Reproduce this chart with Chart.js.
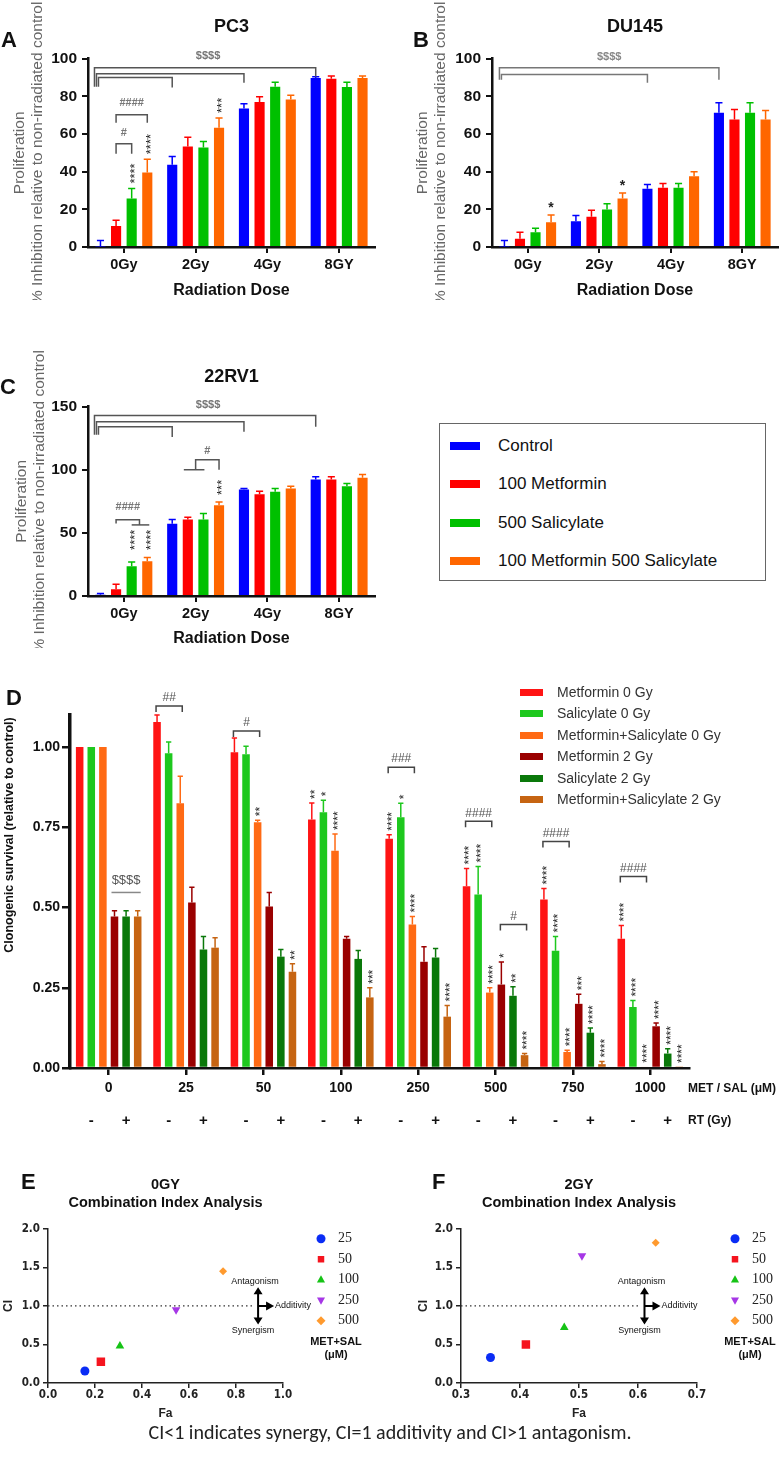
<!DOCTYPE html>
<html>
<head>
<meta charset="utf-8">
<title>Metformin / salicylate and radiation</title>
<script src="https://cdn.jsdelivr.net/npm/chart.js@4.4.1/dist/chart.umd.min.js"></script>
<style>
  html, body { margin: 0; padding: 0; background: #fff; }
  body { position: relative; width: 780px; height: 1472px; overflow: hidden; font-family: 'Liberation Sans', Arial, sans-serif; color: #111; }
  canvas { position: absolute; }
  .letter { position: absolute; font-weight: bold; font-size: 22px; line-height: 22px; }
  .abs { position: absolute; white-space: nowrap; }
  #legend-abc { position: absolute; left: 439px; top: 423px; width: 325px; height: 156px; border: 1.5px solid #666; }
</style>
</head>
<body>
<canvas id="pc3" width="390" height="300" style="left:0;top:0"></canvas>
<canvas id="du145" width="390" height="300" style="left:390px;top:0"></canvas>
<canvas id="rv1" width="390" height="348" style="left:0;top:300px"></canvas>
<canvas id="clono" width="780" height="460" style="left:0;top:680px"></canvas>
<canvas id="ci0" width="390" height="261" style="left:0;top:1160px"></canvas>
<canvas id="ci2" width="390" height="261" style="left:390px;top:1160px"></canvas>

<div class="letter" style="left:1px;top:29px">A</div>
<div class="letter" style="left:413px;top:29px">B</div>
<div class="letter" style="left:0;top:376px">C</div>
<div class="letter" style="left:6px;top:687px">D</div>
<div class="letter" style="left:21px;top:1171px">E</div>
<div class="letter" style="left:432px;top:1171px">F</div>

<div id="legend-abc"></div>
<div id="legend-d"></div>

<div class="abs" style="left:-141px;top:827px;width:300px;height:16px;line-height:16px;text-align:center;transform:rotate(-90deg);font-weight:bold;font-size:12.5px">Clonogenic survival (relative to control)</div>

<div class="abs" style="left:0;top:1420px;width:780px;text-align:center;font-family:Carlito,'Open Sans',sans-serif;font-size:20px;line-height:24px;color:#222">CI&lt;1 indicates synergy, CI=1 additivity and CI&gt;1 antagonism.</div>

<script>
const FONT = "'Liberation Sans', Arial, Helvetica, sans-serif";
const NARROW = "'Liberation Sans Narrow', 'DejaVu Sans Condensed', 'Liberation Sans', Arial, sans-serif";
const SERIF = "'Liberation Serif', 'DejaVu Serif', 'Times New Roman', serif";
const GREY = '#555';
Chart.defaults.font.family = FONT;
Chart.defaults.color = '#111';

// ---- A-C: % inhibition of proliferation
const DOSES = ['0Gy', '2Gy', '4Gy', '8GY'];
const TREATMENTS = ['Control', '100 Metformin', '500 Salicylate', '100 Metformin 500 Salicylate'];
const TREATMENT_COLORS = ['#0000ff', '#ff0000', '#00c000', '#ff6600'];

// rows = treatment, columns = dose
const PC3_MEAN = [
  [0.3, 43.6, 73.5, 89.7],
  [11.2, 53.4, 76.9, 89.3],
  [25.8, 52.8, 85.0, 84.9],
  [39.5, 63.3, 78.3, 89.7],
];
const PC3_SEM = [
  [3.2, 4.4, 2.5, 0.7],
  [3.0, 4.8, 2.8, 1.4],
  [5.2, 3.2, 2.5, 2.6],
  [7.1, 5.2, 2.3, 1.0],
];
const DU145_MEAN = [
  [0.3, 13.7, 30.9, 71.3],
  [4.4, 16.1, 31.4, 67.7],
  [7.8, 19.9, 31.4, 71.3],
  [13.1, 25.7, 37.6, 67.7],
];
const DU145_SEM = [
  [3.2, 3.0, 2.3, 5.3],
  [3.4, 3.4, 2.3, 5.3],
  [2.1, 3.1, 2.3, 5.3],
  [3.9, 3.0, 2.3, 4.8],
];
const RV1_MEAN = [
  [1.0, 57.3, 84.4, 92.3],
  [5.3, 60.5, 80.6, 92.3],
  [23.5, 60.5, 82.5, 87.0],
  [27.5, 71.9, 85.1, 93.6],
];
const RV1_SEM = [
  [1.0, 3.2, 0.7, 2.1],
  [4.0, 1.8, 2.4, 2.1],
  [3.5, 4.8, 2.6, 2.1],
  [3.0, 2.6, 1.9, 2.7],
];

// ---- D: clonogenic survival
const CONC = ['0', '25', '50', '100', '250', '500', '750', '1000'];
const CLONO_SERIES = ['Metformin 0 Gy', 'Salicylate 0 Gy', 'Metformin+Salicylate 0 Gy',
  'Metformin 2 Gy', 'Salicylate 2 Gy', 'Metformin+Salicylate 2 Gy'];
const CLONO_COLORS = ['#ff1414', '#1ec81e', '#ff6a14', '#9a0000', '#0a780a', '#c66412'];
const CLONO_MEAN = [
  [1.00, 1.078, 0.984, 0.774, 0.714, 0.566, 0.525, 0.403],
  [1.00, 0.981, 0.978, 0.797, 0.781, 0.541, 0.365, 0.190],
  [1.00, 0.825, 0.766, 0.677, 0.447, 0.235, 0.050, 0.004],
  [0.472, 0.516, 0.503, 0.403, 0.331, 0.260, 0.200, 0.130],
  [0.472, 0.369, 0.347, 0.340, 0.344, 0.225, 0.110, 0.045],
  [0.472, 0.375, 0.300, 0.220, 0.160, 0.040, 0.012, 0.003],
];
const CLONO_SEM = [
  [0, 0.022, 0.044, 0.052, 0.013, 0.056, 0.034, 0.041],
  [0, 0.035, 0.025, 0.037, 0.044, 0.087, 0.045, 0.020],
  [0, 0.084, 0.006, 0.052, 0.025, 0.015, 0.005, 0],
  [0.018, 0.047, 0.044, 0.007, 0.047, 0.070, 0.030, 0.010],
  [0.018, 0.041, 0.022, 0.026, 0.028, 0.028, 0.015, 0.015],
  [0.018, 0.031, 0.025, 0.030, 0.035, 0.005, 0.008, 0],
];
// [series, concentration, label]
const CLONO_STARS = [
  [2, 2, '**'], [5, 2, '**'],
  [0, 3, '**'], [1, 3, '*'], [2, 3, '****'], [5, 3, '***'],
  [0, 4, '****'], [1, 4, '*'], [2, 4, '****'], [5, 4, '****'],
  [0, 5, '****'], [1, 5, '****'], [2, 5, '****'], [3, 5, '*'], [4, 5, '**'], [5, 5, '****'],
  [0, 6, '****'], [1, 6, '****'], [2, 6, '****'], [3, 6, '***'], [4, 6, '****'], [5, 6, '****'],
  [0, 7, '****'], [1, 7, '****'], [2, 7, '****'], [3, 7, '****'], [4, 7, '****'], [5, 7, '****'],
];

// ---- E/F: combination index
const CI_DOSES = ['25', '50', '100', '250', '500'];
const CI_COLORS = ['#0a2cf5', '#f5141e', '#16c316', '#a637e6', '#ff9a2e'];
const CI_STYLES = ['circle', 'rect', 'triangle', 'triangle', 'rectRot'];
const CI_ROTATION = [0, 0, 0, 180, 0];
const CI_RADIUS = [4.5, 6, 5, 5, 4];
const FA_0GY = [0.157, 0.225, 0.306, 0.545, 0.745];
const CI_0GY = [0.155, 0.275, 0.48, 0.95, 1.45];
const FA_2GY = [0.35, 0.41, 0.475, 0.505, 0.63];
const CI_2GY = [0.33, 0.50, 0.72, 1.65, 1.82];

// ---------- helpers
function barX(chart, d, k) { return chart.getDatasetMeta(d).data[k].x; }
function errTop(chart, d, k) {
  const ds = chart.data.datasets[d];
  return ds.data[k] + (ds.sem[k] || 0);
}
function bracket(ctx, x1, x2, yTop, yL, yR) {
  ctx.beginPath();
  ctx.moveTo(x1, yL); ctx.lineTo(x1, yTop); ctx.lineTo(x2, yTop); ctx.lineTo(x2, yR);
  ctx.stroke();
}
function hline(ctx, x1, x2, y) {
  ctx.beginPath(); ctx.moveTo(x1, y); ctx.lineTo(x2, y); ctx.stroke();
}
function txt(ctx, s, x, y, font, color, align) {
  ctx.save();
  ctx.font = font; ctx.fillStyle = color; ctx.textAlign = align || 'center'; ctx.textBaseline = 'middle';
  ctx.fillText(s, x, y);
  ctx.restore();
}
// asterisks written bottom-to-top above a bar
function vStars(ctx, s, x, yBottom, size) {
  ctx.save();
  ctx.translate(x, yBottom); ctx.rotate(-Math.PI / 2);
  ctx.font = `${size}px ${FONT}`; ctx.fillStyle = '#222';
  ctx.textAlign = 'left'; ctx.textBaseline = 'alphabetic';
  ctx.fillText(s, 0, 0.57 * size);
  ctx.restore();
}
function marker(ctx, style, rot, x, y, r, color) {
  ctx.save();
  ctx.fillStyle = color; ctx.translate(x, y); ctx.rotate(rot * Math.PI / 180);
  ctx.beginPath();
  if (style === 'circle') ctx.arc(0, 0, r, 0, Math.PI * 2);
  else if (style === 'rect') ctx.rect(-r * 0.72, -r * 0.72, r * 1.44, r * 1.44);
  else if (style === 'triangle') { ctx.moveTo(0, -r); ctx.lineTo(r * 0.9, r * 0.6); ctx.lineTo(-r * 0.9, r * 0.6); }
  else { ctx.moveTo(0, -r); ctx.lineTo(r, 0); ctx.lineTo(0, r); ctx.lineTo(-r, 0); }
  ctx.closePath(); ctx.fill();
  ctx.restore();
}

// upper error bars from dataset.sem
const errorBars = {
  id: 'errorBars',
  afterDatasetsDraw(chart) {
    const { ctx } = chart;
    const y = chart.scales.y;
    chart.data.datasets.forEach((ds, i) => {
      if (!ds.sem) return;
      chart.getDatasetMeta(i).data.forEach((bar, k) => {
        const s = ds.sem[k];
        if (!s) return;
        const top = y.getPixelForValue(ds.data[k] + s);
        const cap = Math.max(2, bar.width * 0.35);
        ctx.save();
        ctx.strokeStyle = ds.backgroundColor; ctx.lineWidth = 1.5;
        ctx.beginPath();
        ctx.moveTo(bar.x, bar.y); ctx.lineTo(bar.x, top);
        ctx.moveTo(bar.x - cap, top); ctx.lineTo(bar.x + cap, top);
        ctx.stroke();
        ctx.restore();
      });
    });
  },
};

// ---------- A-C charts
function inhibitionChart(id, title, mean, sem, g, annotate) {
  return new Chart(document.getElementById(id), {
    type: 'bar',
    data: {
      labels: DOSES,
      datasets: TREATMENTS.map((t, i) => ({
        label: t, data: mean[i], sem: sem[i], backgroundColor: TREATMENT_COLORS[i],
        categoryPercentage: 0.87, barPercentage: 0.65,
      })),
    },
    options: {
      responsive: false, animation: false,
      layout: { padding: { left: 0, right: g.right, top: 0, bottom: 0 } },
      plugins: {
        legend: { display: false }, tooltip: { enabled: false },
        title: {
          display: true, text: title, fullSize: false, color: '#111',
          font: { size: 18, weight: 'bold' }, padding: { top: g.titleTop, bottom: g.titleBottom },
        },
      },
      scales: {
        x: {
          grid: { drawOnChartArea: false, offset: false, color: '#111', lineWidth: 2, tickLength: 6 },
          border: { color: '#111', width: 2.5 },
          ticks: { color: '#111', font: { size: 14.5, weight: 'bold' }, padding: 3, maxRotation: 0, autoSkip: false },
          title: { display: true, text: 'Radiation Dose', color: '#111', font: { size: 16, weight: 'bold' }, padding: 0 },
          afterFit: s => { s.height = g.xh; },
        },
        y: {
          min: 0, max: g.yMax,
          grid: { drawOnChartArea: false, color: '#111', lineWidth: 2, tickLength: 6 },
          border: { color: '#111', width: 2.5 },
          ticks: { stepSize: g.yStep, color: '#111', font: { size: 15.5, weight: 'bold' }, padding: 5 },
          title: {
            display: true, text: ['Proliferation', '% Inhibition relative to non-irradiated control'],
            color: '#666', font: { size: 15.5, lineHeight: 1.15 }, padding: { top: g.yTitle, bottom: 0 },
          },
          afterFit: s => { s.width = g.yw; },
        },
      },
    },
    plugins: [errorBars, { id: 'sig', afterDraw: annotate }],
  });
}

function annotatePC3(c) {
  const ctx = c.ctx, X = (d, k) => barX(c, d, k), Y = v => c.scales.y.getPixelForValue(v);
  ctx.save();
  ctx.strokeStyle = '#555'; ctx.lineWidth = 1.5;
  const L = X(0, 0);
  bracket(ctx, L - 6, X(0, 3), Y(95.2), Y(85), Y(90.4));
  bracket(ctx, L - 4, X(0, 2), Y(92), Y(85), Y(87.2));
  bracket(ctx, L - 2, X(0, 1), Y(90), Y(85), Y(84.6));
  txt(ctx, '$$$$', (L + X(0, 3)) / 2, Y(101.6), `bold 11px ${FONT}`, '#777');
  bracket(ctx, X(1, 0), X(3, 0), Y(70.2), Y(66), Y(66));
  txt(ctx, '####', (X(1, 0) + X(3, 0)) / 2, Y(76.6), `bold 11px ${FONT}`, '#777');
  bracket(ctx, X(1, 0), X(2, 0), Y(54.8), Y(49.5), Y(49.5));
  txt(ctx, '#', (X(1, 0) + X(2, 0)) / 2, Y(60.6), `bold 11px ${FONT}`, '#777');
  vStars(ctx, '****', X(2, 0), Y(errTop(c, 2, 0)) - 5, 13);
  vStars(ctx, '****', X(3, 0), Y(errTop(c, 3, 0)) - 5, 13);
  vStars(ctx, '***', X(3, 1), Y(errTop(c, 3, 1)) - 5, 13);
  ctx.restore();
}

function annotateDU145(c) {
  const ctx = c.ctx, X = (d, k) => barX(c, d, k), Y = v => c.scales.y.getPixelForValue(v);
  ctx.save();
  ctx.strokeStyle = '#777'; ctx.lineWidth = 1.5;
  const L = X(0, 0) - 5;
  bracket(ctx, L, X(0, 3), Y(95.2), Y(88.8), Y(88.8));
  bracket(ctx, L + 2, X(0, 2), Y(91.5), Y(88.8), Y(87.2));
  txt(ctx, '$$$$', (L + X(0, 3)) / 2, Y(101), `bold 11px ${FONT}`, '#888');
  txt(ctx, '*', X(3, 0), Y(errTop(c, 3, 0)) - 7, `bold 14px ${FONT}`, '#222');
  txt(ctx, '*', X(3, 1), Y(errTop(c, 3, 1)) - 7, `bold 14px ${FONT}`, '#222');
  ctx.restore();
}

function annotateRV1(c) {
  const ctx = c.ctx, X = (d, k) => barX(c, d, k), Y = v => c.scales.y.getPixelForValue(v);
  ctx.save();
  ctx.strokeStyle = '#555'; ctx.lineWidth = 1.5;
  const L = X(0, 0);
  bracket(ctx, L - 6, X(0, 3), Y(142.9), Y(127.8), Y(134));
  bracket(ctx, L - 4, X(0, 2), Y(138), Y(127.8), Y(130));
  bracket(ctx, L - 2, X(0, 1), Y(134), Y(127.8), Y(126));
  txt(ctx, '$$$$', (L + X(0, 3)) / 2, Y(151.6), `bold 11px ${FONT}`, '#777');
  // 2Gy: (metformin, salicylate) vs combination
  hline(ctx, X(1, 1) - 4, X(2, 1) + 1, Y(100));
  const m1 = (X(1, 1) + X(2, 1)) / 2;
  bracket(ctx, m1, X(3, 1), Y(108), Y(100), Y(100));
  txt(ctx, '#', (m1 + X(3, 1)) / 2, Y(115), `bold 11px ${FONT}`, '#777');
  // 0Gy: metformin vs (salicylate, combination)
  hline(ctx, X(2, 0), X(3, 0) + 2, Y(56.3));
  const m0 = (X(2, 0) + X(3, 0)) / 2;
  bracket(ctx, X(1, 0), m0, Y(60.3), Y(57.5), Y(56.3));
  txt(ctx, '####', (X(1, 0) + m0) / 2, Y(70.6), `bold 11px ${FONT}`, '#777');
  vStars(ctx, '****', X(2, 0), Y(36.5), 13);
  vStars(ctx, '****', X(3, 0), Y(36.5), 13);
  vStars(ctx, '***', X(3, 1), Y(80), 13);
  ctx.restore();
}

inhibitionChart('pc3', 'PC3', PC3_MEAN, PC3_SEM,
  { right: 15, yw: 88, xh: 53, titleTop: 16, titleBottom: 21, yTitle: 11, yMax: 100, yStep: 20 }, annotatePC3);
inhibitionChart('du145', 'DU145', DU145_MEAN, DU145_SEM,
  { right: 2, yw: 102, xh: 53, titleTop: 16, titleBottom: 21, yTitle: 24, yMax: 100, yStep: 20 }, annotateDU145);
inhibitionChart('rv1', '22RV1', RV1_MEAN, RV1_SEM,
  { right: 15, yw: 88, xh: 52, titleTop: 66, titleBottom: 19, yTitle: 13, yMax: 150, yStep: 50 }, annotateRV1);

// shared legend for A-C
document.getElementById('legend-abc').innerHTML = TREATMENTS.map((t, i) => `
  <div class="abs" style="left:10px;top:${18 + i * 38.4}px;width:30px;height:8px;background:${TREATMENT_COLORS[i]}"></div>
  <div class="abs" style="left:58px;top:${12 + i * 38.4}px;font-size:17px;line-height:20px;color:#111">${t}</div>`).join('');

// ---------- D chart
function annotateClono(c) {
  const ctx = c.ctx, a = c.chartArea;
  const X = (d, k) => barX(c, d, k), Y = v => c.scales.y.getPixelForValue(v);
  ctx.save();
  // untreated irradiated vs non-irradiated
  ctx.strokeStyle = '#888'; ctx.lineWidth = 1.5;
  const l0 = X(3, 0) - 3, r0 = X(5, 0) + 3;
  hline(ctx, l0, r0, Y(0.547));
  txt(ctx, '$$$$', (l0 + r0) / 2, Y(0.547) - 12, `13px ${FONT}`, GREY);
  // metformin vs combination brackets: [conc, from series, to series, level, label]
  ctx.strokeStyle = '#444';
  [[1, 0, 2, 1.128, '##'], [2, 0, 2, 1.05, '#'], [4, 0, 2, 0.9375, '###'], [5, 0, 2, 0.769, '####'],
   [5, 3, 5, 0.447, '#'], [6, 0, 2, 0.706, '####'], [7, 0, 2, 0.597, '####']].forEach(([k, d1, d2, v, s]) => {
    const x1 = X(d1, k) - 1, x2 = X(d2, k) + 2, y = Y(v);
    bracket(ctx, x1, x2, y, y + 6, y + 6);
    txt(ctx, s, (x1 + x2) / 2, y - 8, `12px ${FONT}`, GREY);
  });
  CLONO_STARS.forEach(([d, k, s]) => vStars(ctx, s, X(d, k), Y(errTop(c, d, k)) - 4, 12));
  // RT row
  CONC.forEach((_, k) => {
    const xm = (X(0, k) + X(1, k) + X(2, k)) / 3, xp = (X(3, k) + X(4, k) + X(5, k)) / 3;
    txt(ctx, '-', xm, a.bottom + 53, `bold 15px ${FONT}`, '#111');
    txt(ctx, '+', xp, a.bottom + 53, `bold 15px ${FONT}`, '#111');
  });
  txt(ctx, 'MET / SAL (\u03bcM)', a.right - 1, a.bottom + 21, `bold 12px ${FONT}`, '#111', 'left');
  txt(ctx, 'RT (Gy)', a.right - 1, a.bottom + 53, `bold 12px ${FONT}`, '#111', 'left');
  ctx.restore();
}

new Chart(document.getElementById('clono'), {
  type: 'bar',
  data: {
    labels: CONC,
    datasets: CLONO_SERIES.map((s, i) => ({
      label: s, data: CLONO_MEAN[i], sem: CLONO_SEM[i], backgroundColor: CLONO_COLORS[i],
      categoryPercentage: 0.9, barPercentage: 0.65,
    })),
  },
  options: {
    responsive: false, animation: false,
    layout: { padding: { left: 0, right: 91, top: 35, bottom: 0 } },
    plugins: { legend: { display: false }, tooltip: { enabled: false } },
    scales: {
      x: {
        grid: { drawOnChartArea: false, offset: false, color: '#111', lineWidth: 2.5, tickLength: 7 },
        border: { color: '#111', width: 2.5 },
        ticks: { color: '#111', font: { size: 14, weight: 'bold' }, padding: 5, maxRotation: 0, autoSkip: false },
        afterFit: s => { s.height = 72; },
      },
      y: {
        min: 0, max: 1.1,
        grid: { drawOnChartArea: false, color: '#111', lineWidth: 2.5, tickLength: 8 },
        border: { color: '#111', width: 3.5 },
        ticks: { stepSize: 0.25, includeBounds: false, callback: v => v.toFixed(2), color: '#111', font: { size: 14, weight: 'bold' }, padding: 2 },
        afterFit: s => { s.width = 70; },
      },
    },
  },
  plugins: [errorBars, { id: 'sigD', afterDraw: annotateClono }],
});

document.getElementById('legend-d').innerHTML = CLONO_SERIES.map((s, i) => `
  <div class="abs" style="left:520px;top:${689 + i * 21.4}px;width:23px;height:7px;background:${CLONO_COLORS[i]}"></div>
  <div class="abs" style="left:557px;top:${683 + i * 21.4}px;font-size:14px;line-height:18px;color:#333">${s}</div>`).join('');

// ---------- E/F charts
function ciDecor(arrowFa) {
  return {
    id: 'ciDecor',
    afterDraw(c) {
      const ctx = c.ctx, a = c.chartArea, xs = c.scales.x, ys = c.scales.y;
      const ax = xs.getPixelForValue(arrowFa), y1 = ys.getPixelForValue(1);
      const yT = ys.getPixelForValue(1.24), yB = ys.getPixelForValue(0.76);
      ctx.save();
      ctx.strokeStyle = '#333'; ctx.lineWidth = 1.3; ctx.setLineDash([1.5, 3]);
      hline(ctx, a.left, ax - 4, y1);
      ctx.setLineDash([]);
      ctx.strokeStyle = '#000'; ctx.fillStyle = '#000'; ctx.lineWidth = 2;
      ctx.beginPath();
      ctx.moveTo(ax, yT + 5); ctx.lineTo(ax, yB - 5);
      ctx.moveTo(ax, y1); ctx.lineTo(ax + 9, y1);
      ctx.stroke();
      ctx.beginPath();
      ctx.moveTo(ax, yT); ctx.lineTo(ax - 4.5, yT + 7); ctx.lineTo(ax + 4.5, yT + 7); ctx.closePath();
      ctx.moveTo(ax, yB); ctx.lineTo(ax - 4.5, yB - 7); ctx.lineTo(ax + 4.5, yB - 7); ctx.closePath();
      ctx.moveTo(ax + 16, y1); ctx.lineTo(ax + 8, y1 - 4.5); ctx.lineTo(ax + 8, y1 + 4.5); ctx.closePath();
      ctx.fill();
      txt(ctx, 'Antagonism', ax - 3, yT - 6, `9px ${FONT}`, '#111');
      txt(ctx, 'Synergism', ax - 5, yB + 6, `9px ${FONT}`, '#111');
      txt(ctx, 'Additivity', ax + 17, y1, `9px ${FONT}`, '#111', 'left');
      // dose legend
      CI_DOSES.forEach((d, i) => {
        const y = a.top + 10 + i * 20.5;
        marker(ctx, CI_STYLES[i], CI_ROTATION[i], a.right + 38, y, 4.5, CI_COLORS[i]);
        txt(ctx, d, a.right + 55, y, `14px ${SERIF}`, '#222', 'left');
      });
      txt(ctx, 'MET+SAL', a.right + 53, a.top + 113, `bold 11px ${FONT}`, '#111');
      txt(ctx, '(\u03bcM)', a.right + 53, a.top + 126, `bold 11px ${FONT}`, '#111');
      ctx.restore();
    },
  };
}

function ciChart(id, title, fa, ci, g, arrowFa) {
  return new Chart(document.getElementById(id), {
    type: 'scatter',
    data: {
      datasets: CI_DOSES.map((d, i) => ({
        label: d, data: [{ x: fa[i], y: ci[i] }],
        backgroundColor: CI_COLORS[i], borderColor: CI_COLORS[i], borderWidth: 0,
        pointStyle: CI_STYLES[i], pointRotation: CI_ROTATION[i], pointRadius: CI_RADIUS[i],
      })),
    },
    options: {
      responsive: false, animation: false,
      layout: { padding: { left: 0, right: g.right, top: 0, bottom: 0 } },
      plugins: {
        legend: { display: false }, tooltip: { enabled: false },
        title: {
          display: true, text: title, fullSize: false, color: '#111',
          font: { size: 14.5, weight: 'bold', lineHeight: 1.25 }, padding: { top: 16, bottom: 16.5 },
        },
      },
      scales: {
        x: {
          type: 'linear', min: g.xMin, max: g.xMax,
          grid: { drawOnChartArea: false, color: '#222', lineWidth: 1.5, tickLength: 5 },
          border: { color: '#222', width: 1.5 },
          ticks: { stepSize: g.xStep, callback: v => v.toFixed(1), color: '#222', font: { family: NARROW, size: 11.5, weight: 'bold' }, padding: 0 },
          title: { display: true, text: 'Fa', color: '#222', font: { size: 12, weight: 'bold' }, padding: 0 },
          afterFit: s => { s.height = 38; },
        },
        y: {
          min: 0, max: 2,
          grid: { drawOnChartArea: false, color: '#222', lineWidth: 1.5, tickLength: 5 },
          border: { color: '#222', width: 1.5 },
          ticks: { stepSize: 0.5, callback: v => v.toFixed(1), color: '#222', font: { family: NARROW, size: 11.5, weight: 'bold' }, padding: 3 },
          title: { display: true, text: 'CI', color: '#222', font: { size: 12, weight: 'bold' }, padding: { top: g.yTitle, bottom: 0 } },
          afterFit: s => { s.width = g.yw; },
        },
      },
    },
    plugins: [ciDecor(arrowFa)],
  });
}

ciChart('ci0', ['0GY', 'Combination Index Analysis'], FA_0GY, CI_0GY,
  { right: 107, yw: 48, yTitle: 1, xMin: 0, xMax: 1, xStep: 0.2 }, 0.894);
ciChart('ci2', ['2GY', 'Combination Index Analysis'], FA_2GY, CI_2GY,
  { right: 83, yw: 71, yTitle: 26, xMin: 0.3, xMax: 0.7, xStep: 0.1 }, 0.611);
</script>
</body>
</html>
